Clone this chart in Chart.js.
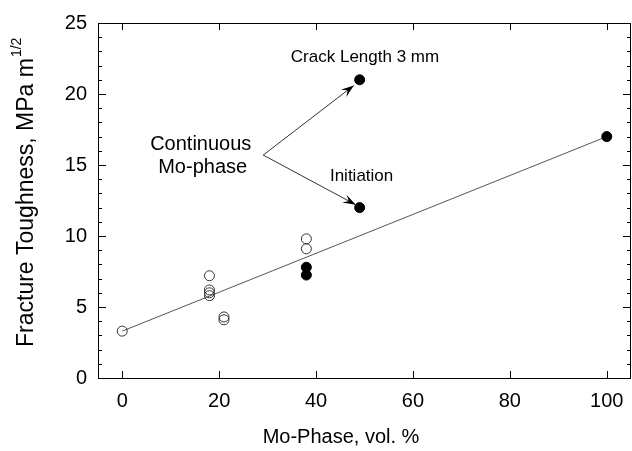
<!DOCTYPE html>
<html>
<head>
<meta charset="utf-8">
<script src="https://cdn.jsdelivr.net/npm/chart.js@4.4.1/dist/chart.umd.min.js"></script>
<style>
  html, body { margin: 0; padding: 0; background: #fff; }
  canvas { display: block; }
</style>
</head>
<body>
<canvas id="grafico" width="632" height="451"></canvas>
<script>
// datos
const abiertosX = [0, 18, 18, 18, 18, 21, 21, 38, 38];
const abiertosY = [3.3, 7.2, 6.2, 6.0, 5.8, 4.3, 4.1, 9.8, 9.1];
const llenosX = [38, 38, 49, 49, 100];
const llenosY = [7.8, 7.25, 21, 12, 17];
const ajusteX = [0, 100];
const ajusteY = [3.3, 17];
const ticksX = [0, 20, 40, 60, 80, 100];
const ticksY = [0, 5, 10, 15, 20, 25];
const ticksYMenor = [1, 2, 3, 4, 6, 7, 8, 9, 11, 12, 13, 14, 16, 17, 18, 19, 21, 22, 23, 24];

const fuente = "Arial, 'Liberation Sans', sans-serif";

function puntos(xs, ys) {
  return xs.map((x, i) => ({ x: x, y: ys[i] }));
}

// marco, ticks hacia adentro, titulo Y y anotaciones
const extras = {
  id: "extras",
  afterDraw(chart) {
    const ctx = chart.ctx;
    const area = chart.chartArea;
    const sx = chart.scales.x;
    const sy = chart.scales.y;
    ctx.save();
    ctx.strokeStyle = "#000";
    ctx.fillStyle = "#000";
    ctx.lineWidth = 1;
    ctx.strokeRect(area.left + 0.5, area.top + 0.5, area.right - area.left - 1, area.bottom - area.top);

    ctx.beginPath();
    ticksX.forEach((v) => {
      const px = Math.round(sx.getPixelForValue(v)) + 0.5;
      ctx.moveTo(px, area.bottom);
      ctx.lineTo(px, area.bottom - 7);
      ctx.moveTo(px, area.top);
      ctx.lineTo(px, area.top + 7);
    });
    ticksY.forEach((v) => {
      const py = Math.round(sy.getPixelForValue(v)) + 0.5;
      ctx.moveTo(area.left, py);
      ctx.lineTo(area.left + 8, py);
      ctx.moveTo(area.right, py);
      ctx.lineTo(area.right - 8, py);
    });
    ticksYMenor.forEach((v) => {
      const py = Math.round(sy.getPixelForValue(v)) + 0.5;
      ctx.moveTo(area.left, py);
      ctx.lineTo(area.left + 4, py);
      ctx.moveTo(area.right, py);
      ctx.lineTo(area.right - 4, py);
    });
    ctx.stroke();

    // titulo eje x
    ctx.font = "20px " + fuente;
    ctx.textAlign = "center";
    ctx.textBaseline = "middle";
    ctx.fillText("Mo-Phase, vol. %", 341, 437);

    // titulo eje y con superindice
    ctx.save();
    ctx.translate(27, 347);
    ctx.rotate(-Math.PI / 2);
    ctx.textAlign = "left";
    ctx.font = "23px " + fuente;
    const base = "Fracture Toughness, MPa m";
    ctx.fillText(base, 0, 0);
    const w = ctx.measureText(base).width;
    ctx.font = "14px " + fuente;
    ctx.fillText("1/2", w + 1, -10);
    ctx.restore();

    // anotaciones
    ctx.textAlign = "center";
    ctx.font = "17px " + fuente;
    ctx.fillText("Crack Length 3 mm", sx.getPixelForValue(50.1), sy.getPixelForValue(22.55));
    ctx.fillText("Initiation", sx.getPixelForValue(49.4), sy.getPixelForValue(14.2));
    ctx.font = "20px " + fuente;
    ctx.fillText("Continuous", sx.getPixelForValue(16.2), sy.getPixelForValue(16.45));
    ctx.fillText("Mo-phase", sx.getPixelForValue(16.6), sy.getPixelForValue(14.8));

    const ox = sx.getPixelForValue(29.1);
    const oy = sy.getPixelForValue(15.7);
    flecha(ctx, ox, oy, sx.getPixelForValue(47.8), sy.getPixelForValue(20.6));
    flecha(ctx, ox, oy, sx.getPixelForValue(48.2), sy.getPixelForValue(12.2));
    ctx.restore();
  },
};

function flecha(ctx, x0, y0, x1, y1) {
  ctx.strokeStyle = "#333";
  ctx.lineWidth = 1;
  ctx.beginPath();
  ctx.moveTo(x0, y0);
  ctx.lineTo(x1, y1);
  ctx.stroke();
  const ang = Math.atan2(y1 - y0, x1 - x0);
  const largo = 13;
  const ancho = 4.5;
  ctx.fillStyle = "#000";
  ctx.beginPath();
  ctx.moveTo(x1, y1);
  ctx.lineTo(x1 - largo * Math.cos(ang) + ancho * Math.sin(ang), y1 - largo * Math.sin(ang) - ancho * Math.cos(ang));
  ctx.lineTo(x1 - 0.6 * largo * Math.cos(ang), y1 - 0.6 * largo * Math.sin(ang));
  ctx.lineTo(x1 - largo * Math.cos(ang) - ancho * Math.sin(ang), y1 - largo * Math.sin(ang) + ancho * Math.cos(ang));
  ctx.closePath();
  ctx.fill();
}

const contexto = document.getElementById("grafico").getContext("2d");
const grafico = new Chart(contexto, {
  type: "scatter",
  data: {
    datasets: [
      {
        type: "line",
        data: puntos(ajusteX, ajusteY),
        borderColor: "#555",
        borderWidth: 1,
        pointRadius: 0,
        order: 3,
      },
      {
        data: puntos(abiertosX, abiertosY),
        pointRadius: 5,
        pointBackgroundColor: "rgba(255,255,255,0)",
        pointBorderColor: "#333",
        pointBorderWidth: 1,
        order: 2,
      },
      {
        data: puntos(llenosX, llenosY),
        pointRadius: 5,
        pointBackgroundColor: "#000",
        pointBorderColor: "#000",
        pointBorderWidth: 1,
        order: 1,
      },
    ],
  },
  options: {
    responsive: false,
    animation: false,
    devicePixelRatio: 1,
    layout: { autoPadding: false, padding: { top: 23, right: 1, left: 0, bottom: 0 } },
    plugins: { legend: { display: false }, tooltip: { enabled: false } },
    scales: {
      x: {
        type: "linear",
        min: -5,
        max: 105,
        afterBuildTicks: (s) => { s.ticks = ticksX.map((v) => ({ value: v })); },
        afterFit: (s) => { s.height = 73; s.paddingLeft = 0; s.paddingRight = 0; },
        grid: { display: false, drawTicks: false },
        border: { display: false },
        ticks: { color: "#000", font: { size: 20, family: fuente }, padding: 11, maxRotation: 0 },
      },
      y: {
        min: 0,
        max: 25,
        afterBuildTicks: (s) => { s.ticks = ticksY.map((v) => ({ value: v })); },
        afterFit: (s) => { s.width = 98; s.paddingTop = 0; s.paddingBottom = 0; },
        grid: { display: false, drawTicks: false },
        border: { display: false },
        ticks: { color: "#000", font: { size: 20, family: fuente }, padding: 11 },
      },
    },
  },
  plugins: [extras],
});
</script>
</body>
</html>
